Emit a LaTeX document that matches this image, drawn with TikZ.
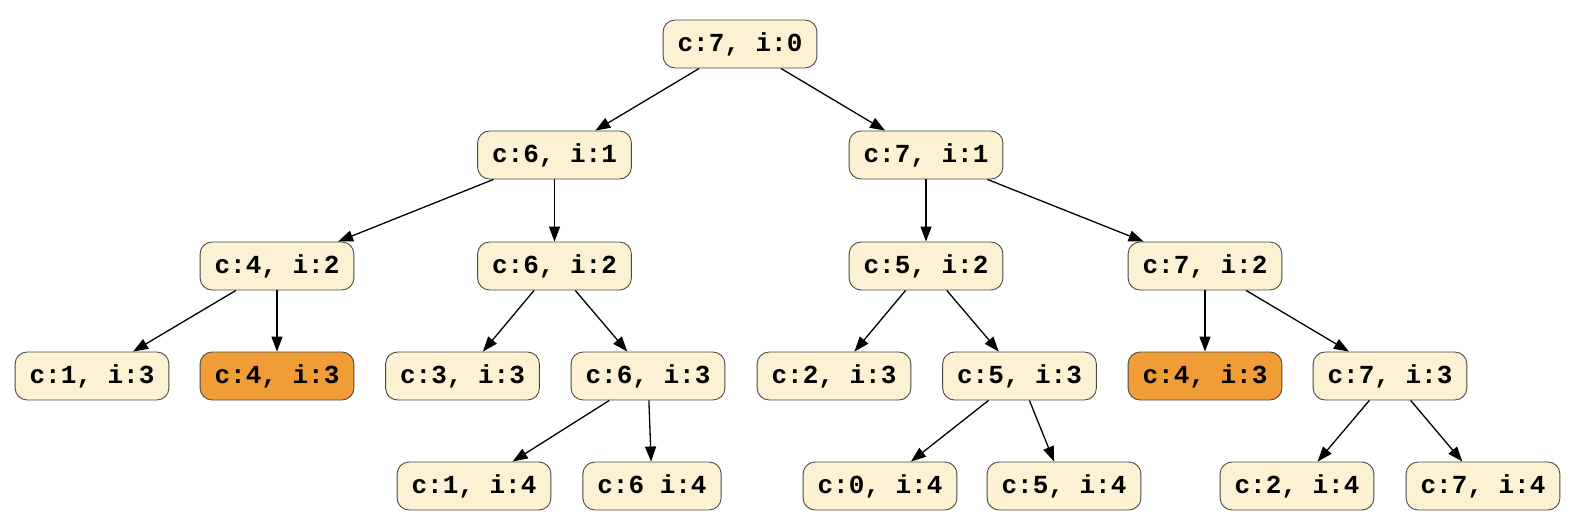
\documentclass[tikz,border=0pt]{standalone}
\usepackage{fontspec}
\setmonofont{Liberation Mono}
\usetikzlibrary{arrows.meta}
\definecolor{cream}{HTML}{FCF1D3}
\definecolor{hot}{HTML}{F09D38}
\definecolor{bord}{HTML}{4A4A4A}
\tikzset{
  tn/.style={draw=bord, line width=0.9pt, fill=cream, rounded corners=12pt,
    minimum height=48pt, inner xsep=14.5pt, inner ysep=0pt,
    text height=15.5pt, text depth=0pt,
    font=\fontsize{26}{30}\selectfont\ttfamily\bfseries},
  hl/.style={tn, fill=hot},
  ed/.style={line width=1.3pt, -{Triangle[length=15pt,width=11pt]}}
}
\begin{document}
\begin{tikzpicture}[x=1pt,y=-1pt]
\useasboundingbox (0,0) rectangle (1582,525);
\node[tn] (r) at (740,44) {c:7, i:0};
\node[tn] (a) at (554.5,155) {c:6, i:1};
\node[tn] (b) at (926,155) {c:7, i:1};
\node[tn] (aa) at (277,266) {c:4, i:2};
\node[tn] (ab) at (554.5,266) {c:6, i:2};
\node[tn] (ba) at (926,266) {c:5, i:2};
\node[tn] (bb) at (1205,266) {c:7, i:2};
\node[tn] (aaa) at (92,376) {c:1, i:3};
\node[hl] (aab) at (277,376) {c:4, i:3};
\node[tn] (aba) at (462.5,376) {c:3, i:3};
\node[tn] (abb) at (648,376) {c:6, i:3};
\node[tn] (baa) at (834,376) {c:2, i:3};
\node[tn] (bab) at (1019.5,376) {c:5, i:3};
\node[hl] (bba) at (1205,376) {c:4, i:3};
\node[tn] (bbb) at (1390,376) {c:7, i:3};
\node[tn] (abba) at (474,486) {c:1, i:4};
\node[tn] (abbb) at (652,486) {c:6 i:4};
\node[tn] (baba) at (880,486) {c:0, i:4};
\node[tn] (babb) at (1064,486) {c:5, i:4};
\node[tn] (bbba) at (1297,486) {c:2, i:4};
\node[tn] (bbbb) at (1483,486) {c:7, i:4};
\draw[ed] (r) -- (a);
\draw[ed] (r) -- (b);
\draw[ed] (a) -- (aa);
\draw[ed] (a) -- (ab);
\draw[ed] (b) -- (ba);
\draw[ed] (b) -- (bb);
\draw[ed] (aa) -- (aaa);
\draw[ed] (aa) -- (aab);
\draw[ed] (ab) -- (aba);
\draw[ed] (ab) -- (abb);
\draw[ed] (ba) -- (baa);
\draw[ed] (ba) -- (bab);
\draw[ed] (bb) -- (bba);
\draw[ed] (bb) -- (bbb);
\draw[ed] (abb) -- (abba);
\draw[ed] (abb) -- (abbb);
\draw[ed] (bab) -- (baba);
\draw[ed] (bab) -- (babb);
\draw[ed] (bbb) -- (bbba);
\draw[ed] (bbb) -- (bbbb);
\end{tikzpicture}
\end{document}
